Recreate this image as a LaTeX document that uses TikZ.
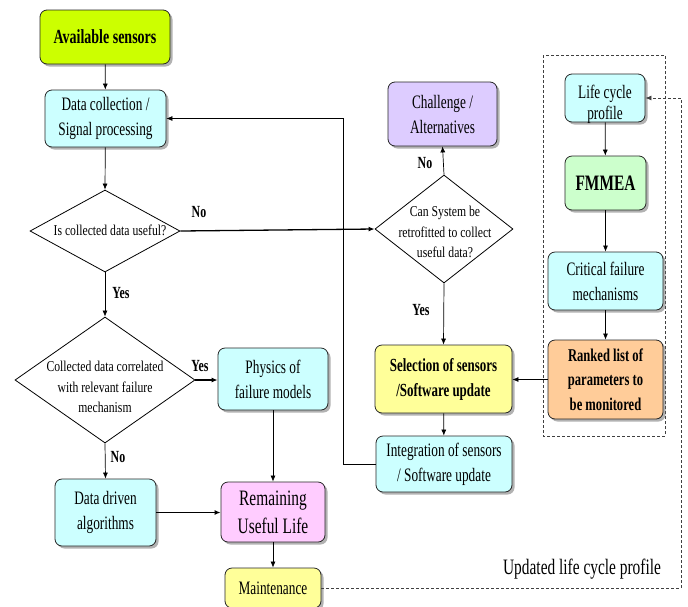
\documentclass[tikz,border=0pt]{standalone}
\usepackage{fontspec}
\setmainfont{Liberation Serif}[FakeStretch=0.7]
\newfontfamily\dfont{Liberation Serif}[FakeStretch=0.78]
\usetikzlibrary{shapes.geometric,shadows,arrows.meta}
\definecolor{clime}{RGB}{204,255,0}
\definecolor{ccyan}{RGB}{204,255,255}
\definecolor{cpurple}{RGB}{221,204,255}
\definecolor{cgreen}{RGB}{204,255,204}
\definecolor{corange}{RGB}{255,204,153}
\definecolor{cyellow}{RGB}{255,255,153}
\definecolor{cpink}{RGB}{255,204,255}
\begin{document}
\begin{tikzpicture}[x=1pt,y=-1pt,
  box/.style={draw=black!85, line width=0.8pt, rounded corners=7pt, align=center, inner sep=0pt,
    drop shadow={shadow xshift=2.5pt, shadow yshift=-2.5pt, fill=black!60, opacity=0.5},
    font=\fontsize{19}{25}\selectfont},
  bbox/.style={box, font=\bfseries\fontsize{18.5}{25}\selectfont},
  dia/.style={draw=black, line width=0.8pt, diamond, inner sep=0pt},
  dtext/.style={font=\dfont\fontsize{15}{20.5}\selectfont, align=center, inner sep=0pt},
  lab/.style={font=\bfseries\fontsize{17}{20}\selectfont, inner sep=0pt},
  arr/.style={-{Latex[length=6pt,width=5pt]}, line width=0.7pt},
  tarr/.style={-{Latex[length=6pt,width=5pt]}, line width=1.3pt},
  dashline/.style={draw=black!75, line width=0.8pt, dash pattern=on 3pt off 2pt}
]
\useasboundingbox (0,0) rectangle (688,606);

% left column
\node[box, fill=clime, minimum width=130pt, minimum height=54pt, font=\bfseries\fontsize{20}{25}\selectfont] (avail) at (105,37) {Available sensors};
\node[box, fill=ccyan, minimum width=121pt, minimum height=57pt] (datac) at (105.5,118.5) {Data collection /\\Signal processing};
\node[dia, minimum width=150pt, minimum height=82pt] (d1) at (105,231) {};
\node[dtext] (d1t) at (110,230) {Is collected data useful?};
\node[dia, minimum width=180pt, minimum height=126pt] (d2) at (105,380) {};
\node[dtext] (d2t) at (105,387) {Collected data correlated\\with relevant failure\\mechanism};
\node[box, fill=ccyan, minimum width=110pt, minimum height=62pt] (phys) at (273,379) {Physics of\\failure models};
\node[box, fill=ccyan, minimum width=101pt, minimum height=67pt] (ddriven) at (105.5,512.5) {Data driven\\algorithms};
\node[box, fill=cpink, minimum width=104pt, minimum height=60pt, font=\fontsize{22}{28}\selectfont] (rul) at (273,512) {Remaining\\Useful Life};
\node[box, fill=cyellow, minimum width=96pt, minimum height=40pt] (maint) at (273,588) {Maintenance};

% middle column
\node[box, fill=cpurple, minimum width=109pt, minimum height=64pt] (chal) at (442.5,114) {Challenge /\\Alternatives};
\node[dia, minimum width=138pt, minimum height=108pt] (d3) at (444,229) {};
\node[dtext] (d3t) at (445,232) {Can System be\\retrofitted to collect\\useful data?};
\node[bbox, fill=cyellow, minimum width=137pt, minimum height=68pt] (sel) at (443.5,379) {Selection of sensors\\/Software update};
\node[box, fill=ccyan, minimum width=136pt, minimum height=56pt] (integ) at (444,464) {Integration of sensors\\/ Software update};

% right column
\draw[dashline] (543,55) rectangle (665,436);
\node[box, fill=ccyan, minimum width=80pt, minimum height=48pt] (lcp) at (605,98) {};
\node[font=\fontsize{19}{21}\selectfont, align=center, inner sep=0pt] (lcpt) at (605,104) {Life cycle\\profile};
\node[box, fill=cgreen, minimum width=81pt, minimum height=54pt, font=\bfseries\fontsize{22}{26}\selectfont] (fmmea) at (605.5,183) {FMMEA};
\node[box, fill=ccyan, minimum width=115pt, minimum height=58pt] (crit) at (605.5,281) {Critical failure\\mechanisms};
\node[bbox, fill=corange, minimum width=115pt, minimum height=79pt, font=\bfseries\fontsize{18}{24.5}\selectfont] (rank) at (605.5,379.5) {Ranked list of\\parameters to\\be monitored};
\node[font=\fontsize{22}{26}\selectfont, inner sep=0pt] (upd) at (582,569) {Updated life cycle profile};

% connectors
\draw[arr] (avail) -- (datac);
\draw[arr] (datac) -- (d1.north);
\draw[tarr] (d1.east) -- (d3.west);
\draw[arr] (d1.south) -- (d2.north);
\draw[tarr] (d2.east) -- (d2.east -| phys.west);
\draw[arr] (phys) -- (rul);
\draw[arr] (d2.south) -- (ddriven.north);
\draw[tarr] (ddriven.east) -- (ddriven.east -| rul.west);
\draw[arr] (rul) -- (maint);
\draw[arr] (d3.north) -- (chal.south);
\draw[arr] (d3.south) -- (sel.north);
\draw[arr] (rank.west) -- (rank.west -| sel.east);
\draw[arr] (sel) -- (integ);
\coordinate (loop) at (343,118.5);
\draw[arr] (integ.west) -| (loop) -- (datac.east);
\draw[arr] (lcp) -- (fmmea);
\draw[arr] (fmmea) -- (crit);
\draw[arr] (crit) -- (rank);
\coordinate (ret) at (681,98);
\draw[dashline, -{Latex[length=6pt,width=5pt]}] (maint.east) -| (ret) -- (lcp.east);

% labels
\node[lab] (l1) at (199,212) {No};
\node[lab] (l2) at (121,293) {Yes};
\node[lab] (l3) at (200,366) {Yes};
\node[lab] (l4) at (118,457) {No};
\node[lab] (l5) at (425,163) {No};
\node[lab] (l6) at (421,310) {Yes};
\end{tikzpicture}
\end{document}
